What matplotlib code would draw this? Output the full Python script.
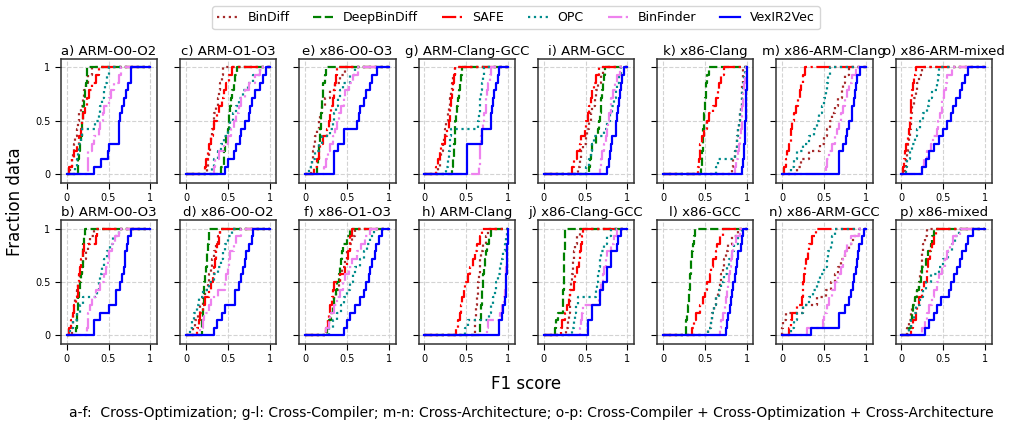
import numpy as np
import matplotlib
matplotlib.use('Agg')
import matplotlib.pyplot as plt

# panel titles, alphabetical (a..p)
titles = ['a) ARM-O0-O2', 'b) ARM-O0-O3', 'c) ARM-O1-O3', 'd) x86-O0-O2',
          'e) x86-O0-O3', 'f) x86-O1-O3', 'g) ARM-Clang-GCC', 'h) ARM-Clang',
          'i) ARM-GCC', 'j) x86-Clang-GCC', 'k) x86-Clang', 'l) x86-GCC',
          'm) x86-ARM-Clang', 'n) x86-ARM-GCC', 'o) x86-ARM-mixed', 'p) x86-mixed']

# F1 scores per tool, one list per panel (a..p)
bindiff = [
    [0.04,0.06,0.08,0.09,0.10,0.12,0.14,0.15,0.17,0.19,0.21,0.23,0.26,0.30],
    [0.06,0.07,0.08,0.09,0.10,0.12,0.14,0.16,0.18,0.20,0.23,0.25,0.28,0.32],
    [0.25,0.26,0.28,0.29,0.30,0.31,0.33,0.34,0.36,0.38,0.39,0.41,0.43,0.44],
    [0.08,0.11,0.14,0.17,0.20,0.23,0.26,0.28,0.30,0.31,0.33,0.36,0.38,0.41],
    [0.07,0.08,0.09,0.10,0.12,0.14,0.16,0.18,0.20,0.24,0.30,0.36,0.42,0.48],
    [0.25,0.27,0.30,0.33,0.35,0.37,0.40,0.42,0.44,0.47,0.50,0.53,0.56,0.60],
    [0.16,0.18,0.20,0.22,0.23,0.24,0.26,0.28,0.29,0.31,0.32,0.33,0.34,0.36],
    [0.60,0.61,0.62,0.62,0.63,0.64,0.64,0.65,0.66,0.67,0.68,0.70,0.74,0.76],
    [0.41,0.43,0.45,0.47,0.50,0.52,0.54,0.56,0.58,0.61,0.63,0.65,0.68,0.71],
    [0.27,0.29,0.30,0.31,0.32,0.32,0.33,0.34,0.35,0.35,0.36,0.37,0.40,0.43],
    [0.82,0.84,0.86,0.88,0.89,0.90,0.91,0.92,0.93,0.94,0.94,0.95,0.96,0.96],
    [0.54,0.57,0.59,0.61,0.64,0.66,0.68,0.70,0.72,0.73,0.75,0.78,0.82,0.90],
    [0.18,0.22,0.32,0.45,0.50,0.53,0.57,0.60,0.63,0.67,0.71,0.73,0.75,0.80],
    [0.00,0.01,0.05,0.25,0.42,0.52,0.58,0.63,0.67,0.70,0.75,0.80,0.85,0.92],
    [0.04,0.06,0.07,0.08,0.09,0.10,0.11,0.12,0.13,0.15,0.17,0.19,0.21,0.25],
    [0.07,0.09,0.11,0.13,0.16,0.19,0.21,0.22,0.23,0.24,0.25,0.26,0.28,0.31],
]
deepbindiff = [
    [0.13,0.14,0.15,0.16,0.17,0.18,0.18,0.19,0.20,0.21,0.22,0.23,0.24,0.24],
    [0.11,0.12,0.12,0.13,0.14,0.15,0.16,0.17,0.18,0.19,0.20,0.20,0.21,0.22],
    [0.42,0.45,0.46,0.47,0.48,0.50,0.51,0.52,0.53,0.54,0.55,0.57,0.59,0.61],
    [0.19,0.19,0.20,0.20,0.21,0.21,0.22,0.23,0.24,0.25,0.25,0.26,0.27,0.28],
    [0.14,0.15,0.16,0.17,0.18,0.18,0.19,0.19,0.20,0.20,0.21,0.21,0.24,0.25],
    [0.26,0.28,0.31,0.33,0.35,0.37,0.38,0.40,0.42,0.43,0.44,0.45,0.50,0.54],
    [0.33,0.34,0.35,0.35,0.36,0.37,0.37,0.38,0.39,0.40,0.41,0.42,0.44,0.45],
    [0.67,0.67,0.68,0.68,0.69,0.69,0.70,0.70,0.71,0.72,0.73,0.75,0.77,0.79],
    [0.54,0.55,0.56,0.58,0.63,0.65,0.66,0.67,0.68,0.69,0.70,0.71,0.72,0.73],
    [0.14,0.15,0.17,0.23,0.23,0.23,0.24,0.24,0.24,0.24,0.24,0.25,0.25,0.25],
    [0.46,0.47,0.47,0.48,0.48,0.48,0.49,0.49,0.50,0.50,0.51,0.52,0.53,0.55],
    [0.27,0.28,0.29,0.30,0.31,0.31,0.32,0.32,0.33,0.34,0.35,0.36,0.37,0.38],
    None,
    None,
    None,
    [0.09,0.11,0.13,0.14,0.16,0.19,0.21,0.23,0.25,0.29,0.32,0.35,0.37,0.39],
]
safe = [
    [0.03,0.06,0.09,0.12,0.15,0.17,0.18,0.20,0.22,0.24,0.27,0.30,0.35,0.38],
    [0.03,0.05,0.07,0.09,0.11,0.13,0.14,0.15,0.16,0.17,0.19,0.21,0.35,0.36],
    [0.23,0.24,0.26,0.28,0.30,0.32,0.34,0.37,0.40,0.43,0.46,0.48,0.51,0.55],
    [0.13,0.15,0.17,0.20,0.23,0.27,0.30,0.32,0.34,0.35,0.36,0.37,0.39,0.41],
    [0.11,0.14,0.16,0.18,0.21,0.26,0.29,0.30,0.31,0.33,0.35,0.36,0.37,0.38],
    [0.25,0.27,0.29,0.30,0.32,0.33,0.35,0.42,0.48,0.50,0.51,0.53,0.54,0.56],
    [0.14,0.16,0.18,0.20,0.24,0.27,0.29,0.30,0.31,0.32,0.33,0.34,0.35,0.37],
    [0.38,0.40,0.42,0.44,0.45,0.47,0.49,0.52,0.54,0.58,0.60,0.63,0.66,0.69],
    [0.34,0.36,0.40,0.43,0.45,0.49,0.51,0.53,0.54,0.56,0.58,0.60,0.63,0.66],
    [0.21,0.22,0.25,0.28,0.30,0.32,0.36,0.38,0.40,0.42,0.43,0.44,0.46,0.47],
    [0.42,0.43,0.44,0.44,0.47,0.49,0.53,0.55,0.60,0.63,0.66,0.67,0.70,0.73],
    [0.35,0.37,0.40,0.44,0.48,0.50,0.53,0.56,0.58,0.60,0.63,0.65,0.68,0.72],
    [0.02,0.04,0.06,0.08,0.10,0.11,0.12,0.14,0.16,0.19,0.21,0.23,0.25,0.27],
    [0.08,0.10,0.12,0.18,0.24,0.25,0.25,0.26,0.27,0.29,0.31,0.32,0.36,0.40],
    [0.02,0.03,0.04,0.06,0.08,0.09,0.10,0.11,0.11,0.12,0.13,0.14,0.15,0.17],
    [0.11,0.14,0.17,0.19,0.21,0.24,0.27,0.30,0.31,0.32,0.34,0.37,0.39,0.41],
]
opc = [
    [0.10,0.12,0.13,0.15,0.17,0.18,0.34,0.38,0.40,0.42,0.44,0.46,0.48,0.50],
    [0.04,0.08,0.12,0.16,0.20,0.36,0.38,0.40,0.42,0.45,0.48,0.52,0.55,0.62],
    [0.31,0.34,0.38,0.42,0.46,0.50,0.53,0.56,0.60,0.63,0.68,0.74,0.80,0.88],
    [0.05,0.07,0.10,0.13,0.16,0.20,0.27,0.33,0.38,0.42,0.44,0.47,0.50,0.55],
    [0.05,0.08,0.12,0.16,0.20,0.30,0.33,0.35,0.37,0.39,0.41,0.45,0.53,0.60],
    [0.29,0.33,0.38,0.43,0.46,0.50,0.54,0.57,0.60,0.65,0.70,0.74,0.78,0.82],
    [0.26,0.28,0.29,0.30,0.31,0.32,0.64,0.65,0.66,0.67,0.68,0.69,0.70,0.71],
    [0.48,0.52,0.77,0.80,0.82,0.84,0.86,0.88,0.90,0.92,0.94,0.96,0.98,0.99],
    [0.51,0.54,0.56,0.58,0.60,0.72,0.76,0.79,0.82,0.84,0.86,0.88,0.90,0.92],
    [0.34,0.36,0.38,0.39,0.41,0.63,0.64,0.65,0.66,0.67,0.68,0.72,0.76,0.80],
    [0.64,0.66,0.86,0.88,0.89,0.90,0.91,0.92,0.93,0.94,0.95,0.96,0.97,0.98],
    [0.54,0.57,0.59,0.61,0.64,0.67,0.70,0.73,0.76,0.79,0.82,0.85,0.90,0.94],
    [0.11,0.14,0.18,0.25,0.32,0.38,0.42,0.44,0.47,0.50,0.52,0.53,0.55,0.57],
    [0.10,0.14,0.18,0.25,0.32,0.37,0.42,0.45,0.50,0.53,0.55,0.58,0.60,0.63],
    [0.05,0.07,0.10,0.13,0.16,0.19,0.22,0.26,0.30,0.33,0.37,0.42,0.44,0.45],
    [0.09,0.12,0.15,0.18,0.22,0.26,0.29,0.35,0.45,0.50,0.56,0.60,0.64,0.69],
]
binfinder = [
    [0.25,0.25,0.25,0.30,0.33,0.38,0.40,0.43,0.45,0.50,0.53,0.57,0.62,0.65],
    [0.24,0.25,0.26,0.28,0.30,0.35,0.40,0.44,0.47,0.49,0.51,0.54,0.58,0.62],
    [0.33,0.35,0.40,0.45,0.50,0.54,0.57,0.60,0.63,0.66,0.70,0.75,0.82,0.88],
    [0.17,0.20,0.22,0.27,0.30,0.38,0.47,0.48,0.50,0.52,0.53,0.57,0.60,0.66],
    [0.23,0.25,0.27,0.30,0.33,0.36,0.38,0.40,0.43,0.46,0.48,0.52,0.57,0.63],
    [0.25,0.28,0.30,0.35,0.38,0.42,0.45,0.48,0.52,0.56,0.62,0.67,0.72,0.78],
    [0.65,0.66,0.67,0.67,0.68,0.69,0.70,0.71,0.73,0.74,0.75,0.76,0.78,0.80],
    [0.75,0.76,0.90,0.93,0.95,0.96,0.97,0.98,0.98,0.99,0.99,0.99,1.00,1.00],
    [0.67,0.68,0.70,0.72,0.74,0.76,0.77,0.78,0.80,0.81,0.83,0.85,0.88,0.91],
    [0.43,0.45,0.46,0.47,0.66,0.67,0.69,0.71,0.72,0.74,0.76,0.80,0.84,0.88],
    [0.86,0.87,0.90,0.91,0.92,0.93,0.94,0.95,0.95,0.96,0.96,0.97,0.98,0.99],
    [0.68,0.70,0.72,0.74,0.75,0.76,0.78,0.79,0.80,0.81,0.83,0.84,0.87,0.92],
    [0.52,0.54,0.56,0.60,0.63,0.65,0.68,0.70,0.73,0.75,0.77,0.80,0.83,0.88],
    [0.30,0.49,0.50,0.53,0.56,0.60,0.63,0.67,0.70,0.73,0.75,0.78,0.82,0.92],
    [0.24,0.27,0.31,0.35,0.38,0.42,0.44,0.46,0.48,0.49,0.51,0.53,0.55,0.61],
    [0.24,0.28,0.31,0.33,0.36,0.39,0.42,0.45,0.48,0.52,0.55,0.58,0.62,0.70],
]
vexir2vec = [
    [0.33,0.41,0.49,0.51,0.63,0.63,0.63,0.64,0.66,0.68,0.71,0.73,0.77,0.77],
    [0.33,0.33,0.40,0.50,0.59,0.59,0.64,0.66,0.68,0.70,0.70,0.72,0.73,0.77],
    [0.47,0.50,0.57,0.60,0.65,0.66,0.71,0.75,0.76,0.79,0.83,0.88,0.92,0.96],
    [0.33,0.37,0.43,0.47,0.59,0.59,0.63,0.66,0.68,0.71,0.72,0.75,0.79,0.80],
    [0.35,0.35,0.35,0.39,0.46,0.46,0.62,0.64,0.66,0.70,0.73,0.77,0.80,0.86],
    [0.46,0.50,0.53,0.59,0.65,0.70,0.73,0.76,0.77,0.80,0.84,0.85,0.88,0.92],
    [0.51,0.51,0.51,0.51,0.69,0.69,0.79,0.79,0.81,0.82,0.83,0.85,0.88,0.89],
    [0.89,0.89,0.93,0.94,0.96,0.97,0.98,0.98,0.99,0.99,0.99,0.99,1.00,1.00],
    [0.76,0.78,0.79,0.81,0.82,0.86,0.87,0.88,0.89,0.90,0.91,0.93,0.94,0.96],
    [0.53,0.53,0.58,0.58,0.67,0.67,0.71,0.76,0.76,0.81,0.81,0.88,0.89,0.92],
    [0.95,0.96,0.97,0.97,0.98,0.98,0.98,0.99,0.99,0.99,0.99,1.00,1.00,1.00],
    [0.75,0.77,0.78,0.80,0.81,0.82,0.84,0.86,0.87,0.89,0.90,0.93,0.94,0.96],
    [0.68,0.68,0.68,0.73,0.76,0.78,0.80,0.83,0.84,0.86,0.87,0.88,0.90,0.93],
    [0.34,0.68,0.68,0.75,0.80,0.82,0.85,0.86,0.88,0.89,0.91,0.92,0.95,0.98],
    [0.25,0.29,0.33,0.39,0.45,0.50,0.55,0.59,0.62,0.65,0.70,0.72,0.76,0.80],
    [0.28,0.33,0.39,0.43,0.47,0.57,0.59,0.63,0.66,0.70,0.73,0.77,0.80,0.85],
]

tools = ['BinDiff', 'DeepBinDiff', 'SAFE', 'OPC', 'BinFinder', 'VexIR2Vec']
scores = [bindiff, deepbindiff, safe, opc, binfinder, vexir2vec]
colors = ['brown', 'green', 'red', 'darkcyan', 'violet', 'blue']
styles = [':', '--', '-.', ':', '-.', '-']


def ecdf(vals):
    v = np.sort(np.asarray(vals))
    n = len(v)
    x = np.concatenate([[0], v, [1]])
    y = np.concatenate([[0], np.arange(1, n + 1) / n, [1]])
    return x, y


fig, axes = plt.subplots(2, 8, figsize=(10.32, 4.3), dpi=100)
plt.subplots_adjust(left=0.059, right=0.961, top=0.863, bottom=0.2,
                    wspace=0.24, hspace=0.30)

for i, title in enumerate(titles):
    ax = axes[i % 2, i // 2]
    for name, s, c, ls in zip(tools, scores, colors, styles):
        if s[i] is None:
            continue
        x, y = ecdf(s[i])
        ax.plot(x, y, drawstyle='steps-post', color=c, linestyle=ls,
                linewidth=1.6, label=name)
    ax.set_title(title, fontsize=9.5, pad=3)
    ax.set_xlim(-0.07, 1.08)
    ax.set_ylim(-0.08, 1.08)
    ax.set_xticks([0, 0.5, 1])
    ax.set_xticklabels(['0', '0.5', '1'])
    ax.set_yticks([0, 0.5, 1])
    if i // 2 == 0:
        ax.set_yticklabels(['0', '0.5', '1'])
    else:
        ax.set_yticklabels([])
    ax.tick_params(labelsize=7, length=4)
    ax.grid(True, linestyle='--', color='lightgray', linewidth=0.8)
    for sp in ax.spines.values():
        sp.set_linewidth(1.1)
        sp.set_color('#333333')

handles, labels = axes[0, 0].get_legend_handles_labels()
fig.legend(handles, labels, loc='upper center', bbox_to_anchor=(0.5, 1.0),
           ncol=6, fontsize=9, frameon=True, handlelength=1.6,
           columnspacing=1.9)

fig.text(0.015, 0.53, 'Fraction data', rotation=90, va='center', ha='center', fontsize=12)
fig.text(0.51, 0.107, 'F1 score', ha='center', va='center', fontsize=12)
fig.text(0.515, 0.04, 'a-f:  Cross-Optimization; g-l: Cross-Compiler; m-n: Cross-Architecture; '
         'o-p: Cross-Compiler + Cross-Optimization + Cross-Architecture',
         ha='center', va='center', fontsize=10)

plt.savefig('out.png', dpi=100)
